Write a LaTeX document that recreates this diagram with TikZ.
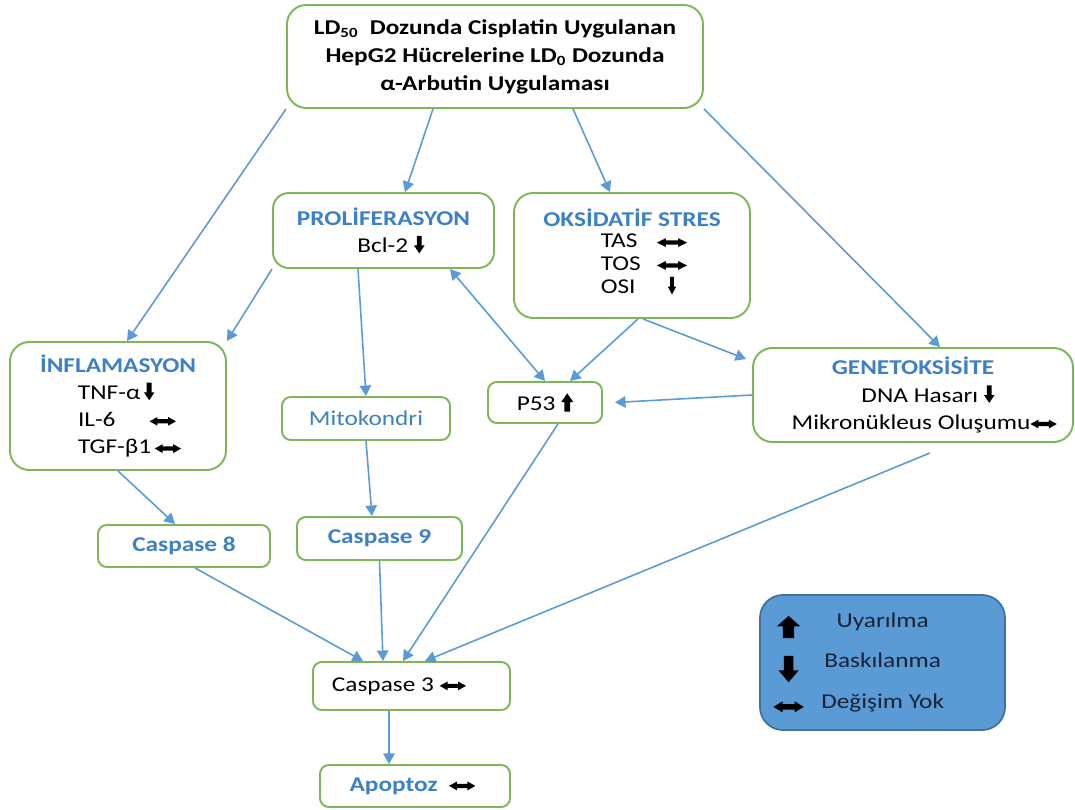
\documentclass[tikz,border=0pt]{standalone}
\usepackage{fontspec}
\setmainfont{Carlito}[FakeStretch=1.2]
\usepackage{xcolor}
\usepackage{tikz}
\usetikzlibrary{arrows.meta}
\definecolor{boxgreen}{RGB}{125,183,88}
\definecolor{arrblue}{RGB}{91,155,213}
\definecolor{ttlblue}{RGB}{62,128,198}
\definecolor{legfill}{RGB}{91,155,213}
\definecolor{legline}{RGB}{65,113,156}
\definecolor{legtext}{RGB}{25,35,55}

% small block arrows used inside the boxes
\newcommand{\uparr}[1][]{\tikz[baseline=0pt,x=1pt,y=1pt,sharp corners,#1]\fill[black] (-1.6,-0.5) -- (1.6,-0.5) -- (1.6,5) -- (3.4,5) -- (0,10) -- (-3.4,5) -- (-1.6,5) -- cycle;}
\newcommand{\dnarr}[1][]{\tikz[baseline=0pt,x=1pt,y=1pt,sharp corners,#1]\fill[black] (-1.4,9.5) -- (1.4,9.5) -- (1.4,4) -- (3,4) -- (0,-0.5) -- (-3,4) -- (-1.4,4) -- cycle;}
\newcommand{\lrarr}[1][]{\tikz[baseline=0pt,x=1pt,y=1pt,sharp corners,#1]\fill[black] (0,3) -- (4.5,5.5) -- (4.5,4.2) -- (10.5,4.2) -- (10.5,5.5) -- (15,3) -- (10.5,0.5) -- (10.5,1.8) -- (4.5,1.8) -- (4.5,0.5) -- cycle;}

\begin{document}
\begin{tikzpicture}[
      box/.style={draw=boxgreen, line width=1.1pt, fill=white, rounded corners=5pt,
                  align=center, inner sep=0pt, font=\fontsize{12}{15.5}\selectfont},
      bigbox/.style={box, rounded corners=11pt},
      ttl/.style={text=ttlblue},
      conn/.style={draw=arrblue, line width=0.9pt, -{Triangle[width=6.5pt,length=6pt]}},
      dconn/.style={conn, {Triangle[width=6.5pt,length=6pt]}-{Triangle[width=6.5pt,length=6pt]}},
      legend/.style={draw=legline, line width=1pt, fill=legfill, rounded corners=13pt,
                  text=legtext, inner sep=0pt, font=\fontsize{12}{15}\selectfont}
    ]
    \useasboundingbox (0,0) rectangle (21.5,-16.2);

    \node[bigbox, minimum width=8.32cm, minimum height=2.06cm, font=\bfseries\fontsize{12}{16}\selectfont] (top) at (9.9,-1.13)
      {LD\textsubscript{50}\ \ Dozunda Cisplatin Uygulanan\\
       HepG2 Hücrelerine LD\textsubscript{0} Dozunda\\
       α-Arbutin Uygulaması};
    \node[box, rounded corners=9pt, minimum width=4.42cm, minimum height=1.5cm] (prol) at (7.67,-4.61)
      {{\bfseries\color{ttlblue}PROLİFERASYON}\\ \hspace*{0.3cm}Bcl-2 \dnarr};
    \node[bigbox, minimum width=4.72cm, minimum height=2.5cm] (oks) at (12.64,-5.11)
      {{\bfseries\color{ttlblue}OKSİDATİF STRES}\\
       \hspace*{0.48cm}\begin{tabular}{@{}l@{\hspace{0.32cm}}c@{}}
         TAS & \lrarr[xscale=1.15]\\[-2.5pt]
         TOS & \lrarr[xscale=1.15]\\[-2.5pt]
         OSI & \dnarr[xscale=0.8]
       \end{tabular}};
    \node[bigbox, minimum width=4.32cm, minimum height=2.56cm] (infl) at (2.36,-8.12)
      {{\bfseries\color{ttlblue}İNFLAMASYON}\\
       \hspace*{0.5cm}\makebox[2.1cm][l]{TNF-α\,\dnarr}\\
       \hspace*{0.5cm}\makebox[2.1cm][l]{IL-6\hspace{0.68cm}\lrarr}\\
       \hspace*{0.5cm}\makebox[2.1cm][l]{TGF-β1\,\lrarr}};
    \node[box, minimum width=3.36cm, minimum height=0.86cm, ttl] (mito) at (7.32,-8.37) {Mitokondri};
    \node[box, minimum width=2.28cm, minimum height=0.82cm] (p53) at (10.9,-8.05) {P53 \uparr};
    \node[bigbox, minimum width=6.4cm, minimum height=1.88cm] (gen) at (18.26,-7.9)
      {{\bfseries\color{ttlblue}GENETOKSİSİTE}\\
       \hspace*{0.6cm}DNA Hasarı \dnarr\\
       \hspace*{0.45cm}Mikronükleus Oluşumu\lrarr};
    \node[box, minimum width=3.44cm, minimum height=0.84cm, ttl, font=\bfseries\fontsize{12}{15}\selectfont] (c8) at (3.68,-10.92) {Caspase 8};
    \node[box, minimum width=3.3cm, minimum height=0.86cm, ttl, font=\bfseries\fontsize{12}{15}\selectfont] (c9) at (7.59,-10.77) {Caspase 9};
    \node[box, minimum width=3.94cm, minimum height=0.96cm] (c3) at (8.23,-13.72) {Caspase 3 \lrarr\hspace*{0.5cm}};
    \node[box, minimum width=3.8cm, minimum height=0.84cm, font=\bfseries\fontsize{12}{15}\selectfont] (apo) at (8.3,-15.72)
      {{\color{ttlblue}Apoptoz}\ \ \lrarr\hspace*{0.1cm}};

    \node[legend, minimum width=4.9cm, minimum height=2.7cm] (leg) at (17.65,-13.25)
      {\begin{tabular}{@{}c@{\hspace{0.35cm}}c@{\hspace{0.95cm}}}
         \uparr[xscale=2,yscale=1.2,baseline=5.5pt] & Uyarılma\\[8pt]
         \dnarr[xscale=1.9,yscale=1.5,baseline=7.5pt] & Baskılanma\\[8pt]
         \lrarr[xscale=1.15,yscale=1.25,baseline=3pt] & Değişim Yok
       \end{tabular}};

    \draw[conn] (top.south west) -- ([xshift=0.18cm]infl.north);
    \draw[conn] ([xshift=-1.24cm]top.south) -- ([xshift=0.43cm]prol.north);
    \draw[conn] ([xshift=1.56cm]top.south) -- ([xshift=-0.44cm]oks.north);
    \draw[conn] (top.south east) -- ([xshift=0.54cm]gen.north);

    \draw[conn] (prol.south west) -- (infl.north east);
    \draw[conn] ([xshift=-0.51cm]prol.south) -- (mito.north);
    \draw[dconn] ([xshift=1.33cm]prol.south) -- (p53.north);
    \draw[conn] ([xshift=0.12cm]oks.south) -- ([xshift=0.5cm]p53.north);
    \draw[conn] ([xshift=0.22cm]oks.south) -- ([xshift=-0.12cm,yshift=-0.24cm]gen.north west);
    \draw[conn] (gen.west) -- ([xshift=0.24cm]p53.east);

    \draw[conn] (infl.south) -- ([xshift=-0.18cm]c8.north);
    \draw[conn] (mito.south) -- ([xshift=-0.15cm]c9.north);
    \draw[conn] ([xshift=0.22cm]c8.south) -- ([xshift=-0.97cm]c3.north);
    \draw[conn] (c9.south) -- ([xshift=-0.57cm]c3.north);
    \draw[conn] ([xshift=0.26cm]p53.south) -- ([xshift=-0.17cm]c3.north);
    \draw[conn] ([xshift=0.34cm,yshift=-0.2cm]gen.south) -- ([xshift=0.27cm]c3.north);
    \draw[conn] ([xshift=-0.45cm]c3.south) -- ([xshift=-0.52cm]apo.north);
  \end{tikzpicture}
\end{document}
